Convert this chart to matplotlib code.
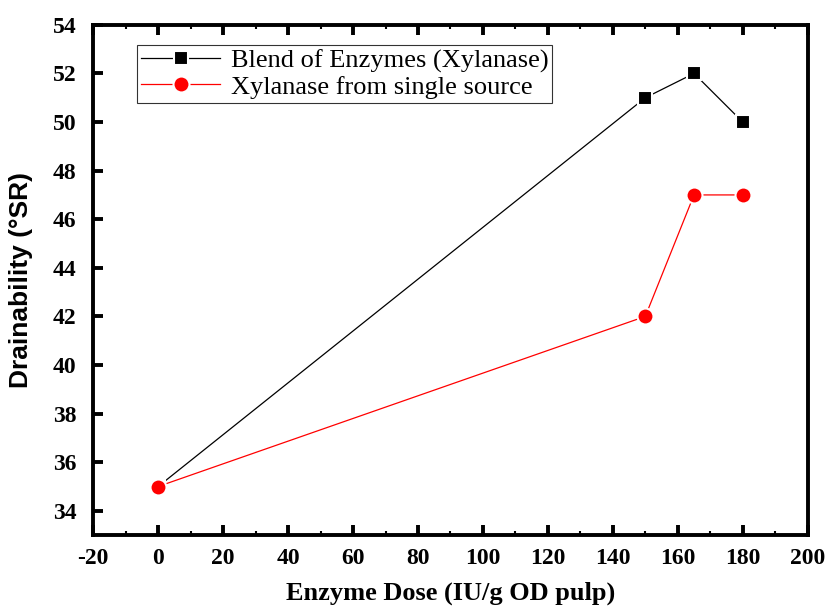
import matplotlib
matplotlib.use("Agg")
import matplotlib.pyplot as plt
from matplotlib.ticker import MultipleLocator

dose = [0, 150, 165, 180]
blend = [35, 51, 52, 50]
single = [35, 42, 47, 47]
xticks = [-20, 0, 20, 40, 60, 80, 100, 120, 140, 160, 180, 200]
yticks = [34, 36, 38, 40, 42, 44, 46, 48, 50, 52, 54]

fig = plt.figure(figsize=(8.25, 6.06), dpi=100)
ax = fig.add_axes([0.113, 0.117, 0.866, 0.842])

serif = "Liberation Serif"
ax.plot(dose, blend, color="black", lw=0.9, marker="s", ms=10, mfc="black",
        mec="white", mew=1.5, label="Blend of Enzymes (Xylanase)", zorder=3)
ax.plot(dose, single, color="red", lw=0.9, marker="o", ms=11.5, mfc="red",
        mec="white", mew=1.5, label="Xylanase from single source", zorder=3)

ax.set_xlim(-20, 200)
ax.set_ylim(33, 54)
ax.set_xticks(xticks)
ax.set_xticklabels([str(v) for v in xticks])
ax.set_yticks(yticks)
ax.set_yticklabels([str(v) for v in yticks])
ax.xaxis.set_minor_locator(MultipleLocator(10))

for s in ax.spines.values():
    s.set_linewidth(2.8)

ax.tick_params(axis="both", which="major", direction="in", length=7, width=2.8,
               labelsize=17)
ax.tick_params(axis="y", which="major", pad=12)
ax.tick_params(axis="x", which="minor", direction="in", length=3, width=1.5, top=True)
ax.tick_params(axis="x", which="major", top=True, length=7, pad=9)
for lab in ax.get_xticklabels() + ax.get_yticklabels():
    lab.set_fontfamily(serif)
    lab.set_fontweight("bold")

ax.set_xlabel("Enzyme Dose (IU/g OD pulp)", fontfamily=serif, fontweight="bold",
              fontsize=19, labelpad=9)
ax.set_ylabel("Drainability (°SR)", fontfamily="Liberation Sans", fontweight="bold",
              fontsize=19, labelpad=14)

leg = ax.legend(loc="upper left", bbox_to_anchor=(0.0615, 0.961), prop={"family": serif, "size": 19},
                frameon=True, fancybox=False, edgecolor="black", handlelength=3,
                borderpad=0.15, labelspacing=0.1, handletextpad=0.4, borderaxespad=0)
leg.get_frame().set_linewidth(0.8)

fig.savefig("out.png", dpi=100)
